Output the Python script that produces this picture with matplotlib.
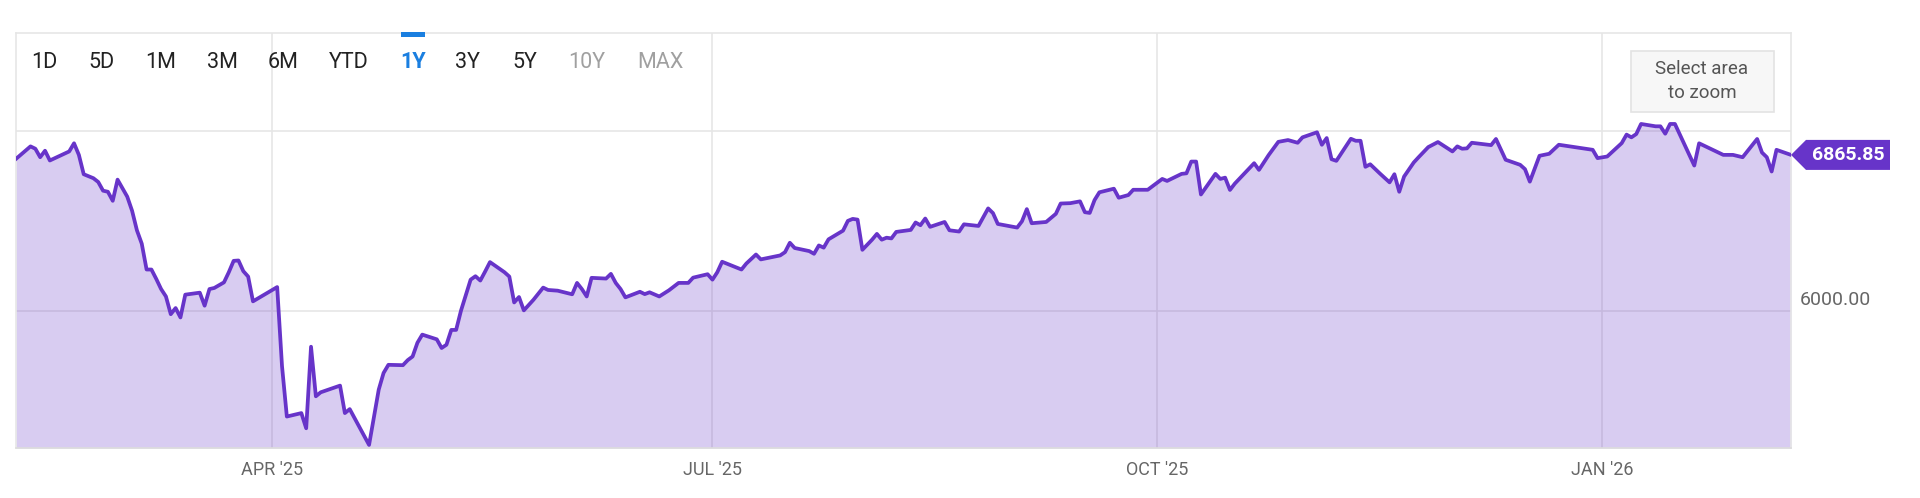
import numpy as np
import pandas as pd
import matplotlib
matplotlib.use('Agg')
import matplotlib.pyplot as plt
import matplotlib.dates as mdates
from matplotlib.patches import Rectangle, Polygon
from matplotlib.transforms import IdentityTransform

plt.rcParams['font.family'] = ['Roboto', 'DejaVu Sans']

# ============================================================
# Data: days since 2025-04-01 and close
# ============================================================
day_offset = [
    -53, -50, -49, -48, -47, -46, -42, -41, -40, -39,
    -37, -36, -35, -34, -33, -32, -30, -29, -28, -27,
    -26, -25, -24, -23, -22, -21, -20, -19, -18, -15,
    -14, -13, -12, -10, -9, -8, -7, -6, -5, -4,
    1, 2, 3, 6, 7, 8, 9, 10, 14, 15,
    16, 20, 22, 23, 24, 27, 28, 29, 30, 31,
    34, 35, 36, 37, 38, 39, 41, 42, 43, 44,
    45, 48, 49, 50, 51, 52, 54, 56, 57, 59,
    62, 63, 64, 65, 66, 69, 70, 71, 72, 73,
    76, 77, 78, 80, 82, 84, 86, 87, 90, 91,
    92, 93, 97, 98, 100, 101, 105, 106, 107, 108,
    111, 112, 113, 114, 115, 118, 119, 120, 121, 122,
    124, 125, 126, 127, 128, 129, 132, 133, 134, 135,
    136, 139, 140, 142, 143, 146, 148, 149, 150, 154,
    155, 156, 157, 160, 162, 163, 165, 167, 168, 169,
    170, 171, 174, 175, 177, 178, 181, 184, 185, 188,
    189, 190, 191, 192, 195, 196, 197, 198, 199, 203,
    204, 206, 208, 210, 212, 213, 216, 217, 218, 219,
    220, 223, 224, 225, 226, 227, 229, 231, 232, 233,
    234, 236, 237, 239, 241, 244, 245, 246, 247, 248,
    252, 253, 255, 258, 259, 260, 262, 264, 266, 273,
    274, 276, 279, 280, 281, 282, 283, 286, 287, 288,
    289, 290, 292, 294, 295, 300, 302, 304, 307, 308,
    309, 310, 311, 314,
]
close = [
    6844, 6913, 6900, 6853, 6889, 6835, 6885, 6930, 6866, 6759,
    6737, 6716, 6668, 6662, 6612, 6729, 6635, 6557, 6449, 6375,
    6232, 6232, 6180, 6124, 6083, 5985, 6019, 5967, 6093, 6104,
    6032, 6124, 6130, 6161, 6217, 6280, 6282, 6223, 6193, 6056,
    6135, 5698, 5419, 5438, 5354, 5805, 5531, 5553, 5590, 5438,
    5460, 5262, 5568, 5660, 5705, 5703, 5731, 5751, 5827, 5872,
    5846, 5798, 5816, 5898, 5898, 6004, 6176, 6195, 6171, 6221,
    6273, 6217, 6193, 6050, 6080, 6006, 6065, 6132, 6119, 6115,
    6095, 6158, 6124, 6083, 6186, 6182, 6208, 6158, 6124, 6078,
    6109, 6096, 6106, 6083, 6117, 6158, 6158, 6187, 6206, 6176,
    6217, 6275, 6232, 6265, 6315, 6288, 6310, 6328, 6380, 6351,
    6334, 6319, 6365, 6353, 6399, 6447, 6501, 6512, 6508, 6341,
    6397, 6429, 6397, 6408, 6404, 6440, 6451, 6492, 6477, 6514,
    6468, 6495, 6449, 6442, 6482, 6473, 6570, 6544, 6484, 6464,
    6499, 6566, 6488, 6495, 6540, 6597, 6599, 6609, 6549, 6545,
    6616, 6659, 6679, 6629, 6644, 6673, 6673, 6733, 6722, 6761,
    6764, 6829, 6829, 6647, 6761, 6733, 6740, 6672, 6707, 6820,
    6783, 6865, 6938, 6948, 6933, 6963, 6991, 6922, 6959, 6842,
    6833, 6955, 6944, 6944, 6800, 6814, 6763, 6714, 6759, 6662,
    6746, 6824, 6853, 6909, 6937, 6885, 6913, 6900, 6902, 6933,
    6920, 6954, 6839, 6811, 6787, 6718, 6861, 6872, 6922, 6894,
    6848, 6857, 6931, 6978, 6963, 6981, 7037, 7024, 7024, 6983,
    7037, 7037, 6922, 6807, 6930, 6866, 6866, 6853, 6954, 6879,
    6853, 6774, 6894, 6865.85,
]
last_price = 6865.85

range_buttons = ['1D', '5D', '1M', '3M', '6M', 'YTD', '1Y', '3Y', '5Y', '10Y', 'MAX']
button_state = ['on', 'on', 'on', 'on', 'on', 'on', 'sel', 'on', 'on', 'off', 'off']
month_ticks = ['2025-04-01', '2025-07-01', '2025-10-01', '2026-01-01']
month_labels = ["APR '25", "JUL '25", "OCT '25", "JAN '26"]
y_grid = [6000, 7000]
y_labelled = 6000

dates = pd.Timestamp('2025-04-01') + pd.to_timedelta(day_offset, unit='D')

# ============================================================
# Figure
# ============================================================
W, H = 1920, 498
PURPLE = '#6734c9'
GRID = '#e6e6e6'
ID = IdentityTransform()

fig = plt.figure(figsize=(W / 100, H / 100), dpi=100)
ax = fig.add_axes([16 / W, 1 - 448 / H, 1775 / W, 415 / H])

ax.set_xlim(dates[0], dates[-1])
ax.set_ylim(5245, 7540)

for yv in y_grid:
    ax.axhline(yv, color=GRID, lw=1.2, zorder=1)
for d in pd.to_datetime(month_ticks):
    ax.axvline(d, color=GRID, lw=1.2, zorder=1)

ax.fill_between(dates, close, ax.get_ylim()[0], color=PURPLE, alpha=0.25, lw=0, zorder=2)
ax.plot(dates, close, color=PURPLE, lw=2.7, zorder=3, solid_joinstyle='round')

for s in ax.spines.values():
    s.set_color(GRID)
    s.set_linewidth(1.2)
ax.spines['bottom'].set_color('#dcdcdc')

ax.set_xticks(pd.to_datetime(month_ticks))
ax.set_xticklabels(month_labels)
ax.tick_params(axis='x', length=0, pad=9, labelsize=13, labelcolor='#666666')
ax.set_yticks([])

# range selector
btn_x = [44, 101, 161, 222, 283, 349, 413, 468, 525, 587, 660]
colors = {'on': '#222222', 'sel': '#1a7fe0', 'off': '#a0a0a0'}
for label, state, bx in zip(range_buttons, button_state, btn_x):
    fig.text(bx, H - 62, label, transform=ID, ha='center', va='center',
             fontsize=15.5, color=colors[state],
             fontweight='bold' if state == 'sel' else 'normal')
fig.add_artist(Rectangle((401, H - 37), 24, 5, transform=ID,
                         facecolor='#1a7fe0', edgecolor='none'))

# zoom hint box
fig.add_artist(Rectangle((1631, H - 112), 143, 61, transform=ID,
                         facecolor='#f7f7f7', edgecolor='#e3e3e3', lw=1.2))
fig.text(1702, H - 69, 'Select area', transform=ID, ha='center', va='center',
         fontsize=13.5, color='#555555')
fig.text(1702, H - 93, 'to zoom', transform=ID, ha='center', va='center',
         fontsize=13.5, color='#555555')

# y label
y6 = ax.transData.transform((mdates.date2num(dates[0]), y_labelled))[1]
fig.text(1800, y6 + 11, f'{y_labelled:.2f}', transform=ID, ha='left', va='center',
         fontsize=14, color='#666666')

# last price flag
x0 = ax.transAxes.transform((1, 0))[0]
yl = ax.transData.transform((mdates.date2num(dates[-1]), last_price))[1]
flag = [(x0, yl), (x0 + 15, yl + 15), (x0 + 99, yl + 15), (x0 + 99, yl - 15), (x0 + 15, yl - 15)]
fig.add_artist(Polygon(flag, closed=True, transform=ID, facecolor=PURPLE, edgecolor='none'))
fig.text(x0 + 57, yl, f'{last_price:.2f}', transform=ID, ha='center', va='center',
         fontsize=14, fontweight='bold', color='white')

fig.savefig('out.png', dpi=100)
